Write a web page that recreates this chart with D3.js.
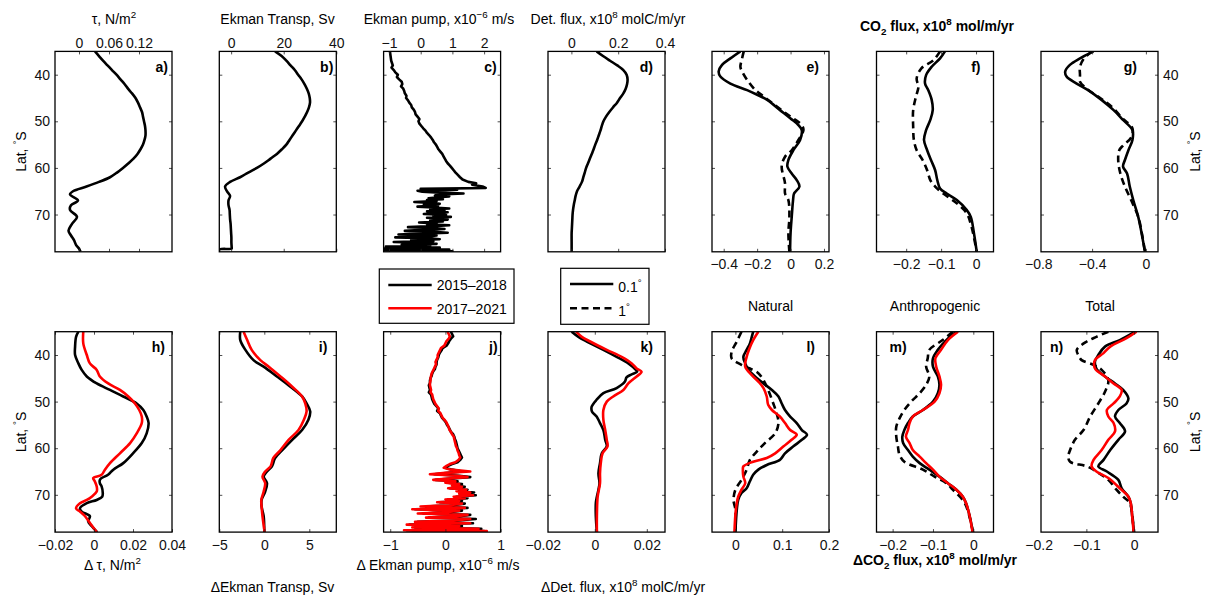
<!DOCTYPE html>
<html>
<head>
<meta charset="utf-8">
<script src="https://cdn.jsdelivr.net/npm/d3@7"></script>
<style>
  body { margin: 0; background: #fff; }
  svg { display: block; font-family: "Liberation Sans", Arial, Helvetica, sans-serif; }
</style>
</head>
<body>
<svg id="chart" width="1205" height="597"></svg>
<script>
// ---- data: [lat (deg S), value] ----
const latTicks = [40, 50, 60, 70]

const tauMean = [[35,0.032],[36,0.040],[37,0.048],[38,0.057],[39,0.066],[40,0.075],[41,0.083],[42,0.091],[43,0.098],[44,0.106],[45,0.113],[46,0.118],[47,0.122],[48,0.126],[49,0.128],[50,0.130],[51,0.132],[52,0.133],[53,0.133],[54,0.131],[55,0.128],[56,0.123],[57,0.117],[58,0.109],[59,0.099],[60,0.088],[61,0.076],[62,0.062],[63,0.040],[64,0.015],[65,-0.012],[65.7,-0.018],[67,-0.002],[68,-0.016],[69,-0.018],[70.5,-0.004],[72,-0.014],[73.5,-0.021],[74.5,-0.016],[75.5,-0.010],[76.5,-0.006],[77.3,0.000],[78,0.003]]

const ekmanTransp = [[35,16.7],[36,19.2],[37,21],[38,22.6],[39,24.2],[40,25.5],[41,26.8],[42,27.9],[43,28.8],[44,29.5],[45,29.9],[46,30],[47,29.6],[48,28.9],[49,28],[50,27],[51,25.8],[52,24.6],[53,23.4],[54,22.2],[55,21],[56,19.3],[57,17.4],[58,15],[59,12.6],[60,9.8],[61,6.5],[62,3.4],[63,-0.4],[64,-2.3],[65,-1.6],[66,-0.4],[67,-1.0],[68,-1.0],[69,-0.6],[70,-0.5],[71,-0.4],[72,-0.2],[73,-0.1],[74,0],[75,0.1],[76,0.1],[77,0.2],[77.3,0.2],[77.5,-4.5],[78,-4.5]]

const ekmanPump = [[35,-0.97],[36,-0.95],[37,-0.93],[38,-0.88],[38.5,-0.92],[39,-0.85],[39.5,-0.80],[40,-0.72],[40.5,-0.75],[41,-0.68],[41.5,-0.60],[42,-0.58],[42.5,-0.62],[43,-0.55],[43.5,-0.52],[44,-0.50],[44.5,-0.45],[45,-0.46],[45.5,-0.40],[46,-0.36],[46.5,-0.30],[47,-0.28],[47.5,-0.22],[48,-0.18],[48.5,-0.16],[49,-0.10],[49.5,-0.04],[50,-0.07],[50.5,-0.04],[51,0.02],[51.5,0.08],[52,0.15],[52.5,0.20],[53,0.27],[53.5,0.33],[54,0.38],[54.5,0.42],[55,0.48],[55.5,0.52],[56,0.56],[56.5,0.62],[57,0.68],[57.5,0.72],[58,0.76],[58.5,0.80],[59,0.85],[59.5,0.92],[60,0.98],[60.5,1.04],[61,1.10],[61.5,1.17],[62,1.24],[62.5,1.32],[63,1.50],[63.3,1.75],[63.6,1.62],[64,1.95],[64.3,2.05],[64.5,0.0],[64.7,1.15],[64.9,-0.1],[65.1,0.05],[65.3,0.6],[65.5,1.35],[65.7,0.6],[65.9,0.45],[66.1,0.9],[66.3,0.55],[66.5,0.25],[66.7,0.7],[66.9,0.2],[67.1,0.5],[67.3,-0.2],[67.5,0.35],[67.7,0.6],[67.9,0.1],[68.1,0.55],[68.3,-0.1],[68.5,0.4],[68.7,0.9],[68.9,0.3],[69.1,0.75],[69.3,0.2],[69.5,0.85],[69.7,0.45],[69.9,0.1],[70.1,0.8],[70.3,0.4],[70.5,0.95],[70.7,0.2],[70.9,0.6],[71.1,0.85],[71.3,0.3],[71.5,0.7],[71.7,-0.05],[71.9,0.5],[72.1,0.2],[72.3,0.9],[72.5,0.4],[72.7,-0.4],[72.9,0.3],[73.1,0.75],[73.3,0.1],[73.5,-0.5],[73.7,0.4],[73.9,0.85],[74.1,0.0],[74.3,-0.7],[74.5,0.5],[74.7,0.2],[74.9,-0.8],[75.1,0.3],[75.3,0.6],[75.5,-0.3],[75.7,0.4],[75.9,-0.85],[76.1,0.2],[76.3,0.5],[76.5,-0.6],[76.7,0.3],[76.9,-1.1],[77.1,0.6],[77.3,-1.17],[77.5,0.9],[77.7,-1.17],[77.9,1.0],[78,-1.17]]

const detFlux = [[35,0.108],[36,0.135],[37,0.165],[38,0.196],[39,0.222],[40,0.236],[41,0.240],[42,0.238],[43,0.232],[44,0.222],[45,0.208],[46,0.195],[47,0.178],[48,0.162],[49,0.148],[50,0.137],[51,0.130],[52,0.124],[53,0.117],[54,0.110],[55,0.102],[56,0.095],[57,0.087],[58,0.079],[59,0.071],[60,0.063],[61,0.057],[62,0.051],[63,0.045],[64,0.035],[65,0.024],[66,0.018],[67,0.014],[68,0.010],[69,0.007],[70,0.005],[71,0.004],[72,0.003],[73,0.002],[74,0.001],[76,0.001],[78,0.001]]

const natHi = [[35,-0.30],[36.5,-0.36],[37.9,-0.41],[39.3,-0.43],[40.4,-0.42],[41.9,-0.36],[43.3,-0.26],[44.3,-0.20],[45.4,-0.14],[47.6,-0.063],[49.4,0.0],[50.8,0.047],[51.9,0.067],[54,0.057],[56.2,0.017],[58.3,-0.013],[59.7,-0.019],[61.2,0.007],[62.6,0.037],[64,0.053],[65.5,0.021],[66.9,0.015],[70.5,0.007],[74,0.0],[78,-0.003]]
const natLo = [[35,-0.28],[36.5,-0.29],[38.3,-0.30],[39.3,-0.29],[41.1,-0.26],[43.3,-0.21],[44.7,-0.16],[46.9,-0.08],[49,0.0],[50.8,0.067],[51.9,0.077],[54,0.047],[56.2,0.007],[57.6,-0.033],[59.7,-0.053],[63.3,-0.033],[65.5,-0.033],[66.9,-0.013],[70.5,-0.007],[74,-0.013],[78,-0.007]]
const antHi = [[35,-0.089],[36.5,-0.103],[38.3,-0.127],[40.1,-0.143],[41.9,-0.146],[43.3,-0.137],[45.4,-0.127],[47.6,-0.124],[49.7,-0.131],[51.9,-0.143],[54,-0.149],[56.2,-0.14],[58.3,-0.129],[60.5,-0.117],[62.6,-0.111],[64.4,-0.103],[65.5,-0.084],[66.9,-0.055],[69,-0.027],[70.5,-0.015],[74,-0.006],[78,0.002]]
const antLo = [[35,-0.103],[36.9,-0.122],[38.6,-0.156],[40.8,-0.17],[42.6,-0.165],[44.7,-0.172],[47.6,-0.18],[51.1,-0.18],[54,-0.178],[56.2,-0.17],[58.3,-0.153],[60.5,-0.14],[62.6,-0.131],[64,-0.117],[65.5,-0.094],[67.6,-0.055],[69.7,-0.027],[72.6,-0.013],[78,0.002]]
const totHi = [[35,-0.39],[36.5,-0.49],[37.9,-0.565],[39.3,-0.60],[40.4,-0.59],[41.9,-0.515],[43.3,-0.43],[45.4,-0.33],[47.6,-0.24],[49.7,-0.17],[51.9,-0.10],[54,-0.10],[56.2,-0.13],[58.3,-0.156],[59.7,-0.17],[61.2,-0.14],[64,-0.12],[66.9,-0.094],[70.5,-0.057],[74,-0.032],[78,-0.007]]
const totLo = [[35,-0.40],[36.5,-0.46],[38.3,-0.49],[40.1,-0.49],[41.5,-0.49],[43,-0.44],[45,-0.34],[47,-0.25],[49.5,-0.17],[51.5,-0.10],[53.5,-0.11],[55.2,-0.17],[56.2,-0.198],[58.3,-0.206],[61.2,-0.19],[64,-0.156],[66.9,-0.11],[70.5,-0.057],[74,-0.03],[78,-0.007]]

// differences, black = 2015-2018, red = 2017-2021
const dTauA = [[35,-0.008],[36.1,-0.0092],[38.2,-0.0097],[40,-0.0097],[41.8,-0.008],[43.2,-0.0063],[44.6,-0.0037],[46.1,0.0014],[47.5,0.0082],[48.9,0.015],[50.4,0.0219],[51.8,0.0253],[53.2,0.027],[54.6,0.028],[56.8,0.027],[58.9,0.0245],[61.1,0.020],[63.2,0.015],[64.6,0.0099],[65.7,0.0072],[66.4,0.0039],[66.8,0.003],[67.5,0.003],[68.2,0.0039],[69.6,0.0045],[70.4,0.0042],[71.1,0.0014],[71.8,-0.0037],[72.9,-0.0072],[73.6,-0.0063],[74.6,-0.0021],[75.7,-0.003],[76.8,-0.001],[78,0.0016]]
const dTauB = [[35,-0.0055],[37.5,-0.0055],[40,-0.0037],[41.8,-0.0021],[43.2,0.0014],[44.6,0.003],[46.1,0.0073],[47.5,0.0133],[48.9,0.0176],[50.4,0.021],[51.8,0.0232],[53.2,0.0245],[54.6,0.0245],[56.8,0.0219],[58.9,0.0185],[61.1,0.0133],[63.2,0.0082],[64.6,0.0056],[65.7,0.0039],[66.4,-0.0004],[67.1,0.0004],[68.2,0.0014],[69.3,0.0014],[70.4,-0.0012],[71.1,-0.0037],[71.8,-0.0072],[72.9,-0.0092],[73.6,-0.0072],[74.6,-0.0046],[76.1,-0.002],[78,0.0014]]

const dTranspA = [[35,-2.67],[36.8,-2.67],[38.9,-2.1],[41.1,-1.2],[42.5,-0.07],[44.6,1.4],[46.8,2.9],[48.9,4.2],[50.4,4.7],[52.1,5.1],[53.9,4.9],[56.1,4.2],[58.2,3.1],[60.4,2.0],[62.1,1.2],[63.9,0.85],[65,0.3],[66.1,-0.07],[67.5,0.3],[69.3,0.1],[71.1,-0.3],[72.5,-0.3],[74.6,-0.07],[78,0.0]]
const dTranspB = [[35,-2.3],[36.8,-1.9],[38.9,-1.4],[41.1,-0.44],[42.5,0.5],[44.6,1.8],[46.8,3.1],[48.9,4.2],[50.4,4.55],[52.1,4.7],[53.9,4.4],[56.1,3.8],[58.2,2.7],[60.4,1.8],[62.1,1.0],[63.9,0.7],[65,0.1],[66.1,-0.2],[67.5,0.1],[69.3,-0.07],[71.1,-0.33],[72.5,-0.3],[74.6,-0.2],[78,0.04]]

const dPumpA = [[35,0.10],[35.5,0.12],[36,0.14],[36.5,0.10],[37,0.07],[37.5,0.05],[38,0.02],[38.5,-0.05],[39,-0.07],[39.5,-0.10],[40,-0.12],[40.5,-0.13],[41,-0.15],[41.5,-0.16],[42,-0.16],[42.5,-0.18],[43,-0.19],[43.5,-0.22],[44,-0.24],[44.5,-0.25],[45,-0.27],[45.5,-0.28],[46,-0.28],[46.5,-0.30],[47,-0.29],[47.5,-0.28],[48,-0.30],[48.5,-0.26],[49,-0.25],[49.5,-0.24],[50,-0.22],[50.5,-0.20],[51,-0.16],[51.5,-0.13],[52,-0.15],[52.5,-0.10],[53,-0.08],[53.5,-0.06],[54,-0.02],[54.5,0.01],[55,0.03],[55.5,0.06],[56,0.08],[56.5,0.10],[57,0.14],[57.5,0.16],[58,0.17],[58.5,0.19],[59,0.20],[59.5,0.21],[60,0.22],[60.5,0.24],[61,0.26],[61.5,0.28],[62,0.30],[62.5,0.27],[63,0.22],[63.4,0.12],[63.8,0.05],[64.2,0.00],[64.6,0.12],[65,0.30],[65.3,0.05],[65.6,-0.20],[65.9,0.25],[66.2,0.45],[66.5,0.10],[66.8,-0.18],[67.1,0.22],[67.4,0.05],[67.7,0.30],[68,0.15],[68.3,0.35],[68.6,0.08],[68.9,0.40],[69.2,0.25],[69.5,0.52],[69.8,0.30],[70.1,0.55],[70.4,0.20],[70.7,0.40],[71,0.05],[71.3,0.30],[71.6,-0.10],[71.9,0.35],[72.2,0.15],[72.5,-0.35],[72.8,0.40],[73.1,-0.55],[73.4,0.30],[73.7,0.10],[74,-0.40],[74.3,0.45],[74.6,0.25],[74.9,-0.30],[75.2,0.55],[75.5,0.20],[75.8,-0.50],[76.1,0.50],[76.4,-0.65],[76.7,0.30],[77,-0.55],[77.3,0.65],[77.6,-0.70],[77.8,0.70],[78,-0.60]]
const dPumpB = [[35,0.04],[35.5,0.06],[36,0.08],[36.5,0.06],[37,0.02],[37.5,0.00],[38,-0.02],[38.5,-0.08],[39,-0.10],[39.5,-0.12],[40,-0.14],[40.5,-0.14],[41,-0.16],[41.5,-0.18],[42,-0.17],[42.5,-0.19],[43,-0.21],[43.5,-0.23],[44,-0.25],[44.5,-0.26],[45,-0.27],[45.5,-0.27],[46,-0.28],[46.5,-0.28],[47,-0.27],[47.5,-0.26],[48,-0.27],[48.5,-0.24],[49,-0.23],[49.5,-0.22],[50,-0.20],[50.5,-0.18],[51,-0.15],[51.5,-0.12],[52,-0.13],[52.5,-0.09],[53,-0.07],[53.5,-0.05],[54,-0.01],[54.5,0.02],[55,0.04],[55.5,0.06],[56,0.07],[56.5,0.10],[57,0.12],[57.5,0.15],[58,0.16],[58.5,0.17],[59,0.18],[59.5,0.19],[60,0.21],[60.5,0.22],[61,0.24],[61.5,0.25],[62,0.27],[62.5,0.24],[63,0.18],[63.4,0.08],[63.8,0.02],[64.2,-0.03],[64.6,0.10],[65,0.45],[65.3,0.00],[65.6,-0.28],[65.9,0.20],[66.2,0.40],[66.5,0.05],[66.8,-0.22],[67.1,0.18],[67.4,0.00],[67.7,0.25],[68,0.12],[68.3,0.30],[68.6,0.05],[68.9,0.38],[69.2,0.20],[69.5,0.45],[69.8,0.25],[70.1,0.50],[70.4,0.15],[70.7,0.35],[71,0.00],[71.3,0.25],[71.6,-0.15],[71.9,0.30],[72.2,0.10],[72.5,-0.45],[72.8,0.35],[73.1,-0.60],[73.4,0.25],[73.7,0.05],[74,-0.50],[74.3,0.40],[74.6,0.20],[74.9,-0.35],[75.2,0.45],[75.5,0.15],[75.8,-0.55],[76.1,0.45],[76.4,-0.70],[76.7,0.25],[77,-0.60],[77.3,0.60],[77.6,-0.75],[77.8,0.75],[78,-0.65]]

const dDetA = [[35,-0.0089],[36.1,-0.0063],[37.1,-0.0031],[38.9,0.0033],[40.4,0.0084],[41.8,0.0129],[43.2,0.0158],[43.6,0.0163],[44.2,0.0140],[44.8,0.0122],[45.7,0.0116],[47.1,0.0084],[48.2,0.0033],[49.6,0.0007],[51.1,-0.0012],[52.1,-0.0011],[53.2,0.0007],[54.6,0.002],[56.1,0.0033],[58.2,0.004],[59.6,0.0046],[61.1,0.0027],[63.2,0.002],[65.4,0.0014],[67.5,0.0018],[68.9,0.0014],[70.4,0.0008],[71.8,0.0004],[74.6,0.0004],[78,0.0008]]
const dDetB = [[35,-0.0072],[36.1,-0.005],[37.1,-0.0018],[38.9,0.0046],[40.4,0.0103],[41.8,0.0142],[42.9,0.0161],[43.6,0.018],[44.6,0.0161],[46.1,0.0129],[47.5,0.011],[48.9,0.0071],[50,0.0046],[51.8,0.0033],[53.9,0.0033],[56.1,0.004],[58.2,0.0046],[59.6,0.0049],[61.1,0.003],[63.2,0.0023],[65.4,0.002],[67.5,0.002],[70.4,0.0011],[74.6,0.0008],[78,0.0008]]

const dNatA = [[35,0.038],[36.1,0.035],[37.5,0.031],[38.9,0.024],[40.4,0.017],[41.8,0.021],[43.2,0.028],[44.6,0.042],[46.1,0.06],[47.5,0.078],[48.9,0.092],[50.4,0.099],[51.8,0.106],[53.2,0.117],[54.6,0.131],[56.1,0.142],[57.1,0.153],[58.2,0.142],[59.6,0.124],[61.1,0.106],[62.5,0.095],[63.6,0.067],[64.6,0.049],[65.7,0.038],[67.1,0.031],[68.6,0.024],[69.6,0.013],[71.1,0.006],[73.2,0.003],[78,0.0]]
const dNatB = [[35,0.049],[36.8,0.038],[38.6,0.03],[40.4,0.024],[42.5,0.021],[44.3,0.035],[45.7,0.049],[47.1,0.06],[48.9,0.067],[50.7,0.07],[51.8,0.078],[53.2,0.095],[54.6,0.106],[56.1,0.117],[57.1,0.131],[58.2,0.12],[59.6,0.103],[61.1,0.085],[62.1,0.067],[62.9,0.038],[63.9,0.017],[64.6,0.016],[66.1,0.017],[67.5,0.021],[68.9,0.013],[70.4,0.006],[73.2,0.001],[78,-0.002]]
const dNatLo = [[35,0.013],[37.1,0.003],[39.3,-0.008],[40.7,-0.008],[42.1,0.013],[42.9,0.031],[43.9,0.049],[45.4,0.06],[47.5,0.07],[50.4,0.081],[52.5,0.088],[54.6,0.092],[56.8,0.085],[58.9,0.063],[60.7,0.046],[62.5,0.031],[64.6,0.024],[66.8,0.013],[68.9,0.0],[71.1,-0.004],[73.2,0.0],[78,0.0]]

const dAntA = [[35,-0.042],[36.8,-0.067],[38.9,-0.088],[40.7,-0.1],[42.5,-0.1],[44.6,-0.088],[46.4,-0.084],[48.2,-0.088],[50,-0.1],[51.8,-0.125],[53.2,-0.15],[54.6,-0.162],[56.1,-0.171],[57.5,-0.176],[58.9,-0.174],[60.4,-0.162],[61.8,-0.15],[63.2,-0.133],[64.6,-0.109],[66.1,-0.084],[67.5,-0.063],[68.9,-0.042],[70.4,-0.026],[71.8,-0.018],[74.6,-0.009],[78,-0.001]]
const dAntB = [[35,-0.038],[36.8,-0.063],[38.9,-0.08],[40.7,-0.094],[42.5,-0.092],[44.6,-0.084],[46.4,-0.08],[48.2,-0.084],[50,-0.096],[51.8,-0.125],[53.2,-0.15],[54.6,-0.158],[56.1,-0.162],[57.5,-0.167],[58.9,-0.158],[60.4,-0.15],[61.8,-0.133],[63.2,-0.117],[64.6,-0.1],[66.1,-0.084],[67.5,-0.063],[68.9,-0.042],[70.4,-0.026],[71.8,-0.018],[74.6,-0.009],[78,-0.002]]
const dAntLo = [[35,-0.051],[36.8,-0.076],[38.9,-0.109],[40.7,-0.113],[42.5,-0.117],[44.6,-0.109],[46.4,-0.117],[48.2,-0.133],[50,-0.154],[51.8,-0.171],[53.6,-0.183],[55.4,-0.191],[57.5,-0.191],[59.6,-0.187],[61.4,-0.183],[62.9,-0.171],[64.6,-0.125],[66.1,-0.096],[67.5,-0.067],[68.9,-0.051],[71.8,-0.021],[78,-0.001]]

const dTotA = [[35,0.002],[36.8,-0.03],[38.2,-0.061],[40,-0.075],[41.4,-0.082],[42.9,-0.079],[44.6,-0.061],[46.1,-0.04],[47.5,-0.023],[49.3,-0.012],[50.4,-0.016],[51.8,-0.033],[53.2,-0.04],[54.6,-0.03],[56.4,-0.019],[58.2,-0.033],[60.4,-0.05],[62.5,-0.064],[63.9,-0.075],[65,-0.057],[66.8,-0.033],[68.6,-0.026],[70.4,-0.012],[71.8,-0.007],[74.6,-0.004],[78,0.0]]
const dTotB = [[35,0.005],[36.4,-0.016],[38.2,-0.05],[39.6,-0.064],[41.1,-0.082],[42.9,-0.082],[44.6,-0.061],[46.1,-0.043],[47.5,-0.026],[48.9,-0.03],[50.4,-0.043],[51.8,-0.057],[53.2,-0.054],[54.6,-0.043],[56.4,-0.04],[58.2,-0.054],[60.4,-0.068],[62.5,-0.085],[63.9,-0.089],[65,-0.079],[66.4,-0.054],[68.6,-0.03],[70.4,-0.012],[71.8,-0.007],[74.6,-0.004],[78,-0.001]]
const dTotLo = [[35,-0.054],[36.1,-0.079],[37.1,-0.099],[38.9,-0.12],[40,-0.117],[41.1,-0.11],[42.1,-0.085],[43.2,-0.068],[45.4,-0.054],[47.9,-0.061],[50.4,-0.075],[53.2,-0.092],[56.1,-0.106],[58.2,-0.124],[60.4,-0.134],[61.8,-0.138],[62.9,-0.134],[63.9,-0.099],[65,-0.079],[66.8,-0.054],[68.9,-0.037],[70.4,-0.023],[71.8,-0.009],[78,-0.001]]

const periodNames = ["2015\u20132018", "2017\u20132021"]
const resNames = ["0.1^{\u00b0}", "1^{\u00b0}"]

// ---- layout ----
const W = 117, H = 200.4
const colX = [55, 219.3, 383.6, 548, 712, 876.5, 1041]
const rowY = [51.4, 331.7]
const FS = 14
const BLACK = "#000", RED = "#ff0000", DASH = "7,4.5"
const smooth = d3.curveCatmullRom.alpha(0.5)

const panels = [
  { col: 0, row: 0, domain: [-0.048, 0.186], ticks: [0, 0.06, 0.12], xSide: "top", yLab: "left", tag: "a)", tagX: W - 4,
    series: [{ d: tauMean, c: BLACK }] },
  { col: 1, row: 0, domain: [-4.5, 40], ticks: [0, 20, 40], xSide: "top", tag: "b)", tagX: W - 3,
    series: [{ d: ekmanTransp, c: BLACK }] },
  { col: 2, row: 0, domain: [-1.17, 2.52], ticks: [-1, 0, 1, 2], xSide: "top", tag: "c)", tagX: W - 4, rough: true,
    series: [{ d: ekmanPump, c: BLACK }] },
  { col: 3, row: 0, domain: [-0.1, 0.4], ticks: [0, 0.2, 0.4], xSide: "top", tag: "d)", tagX: W - 12,
    series: [{ d: detFlux, c: BLACK }] },
  { col: 4, row: 0, domain: [-0.47, 0.23], ticks: [-0.4, -0.2, 0, 0.2], xSide: "bottom", tag: "e)", tagX: W - 10,
    series: [{ d: natLo, c: BLACK, dash: true }, { d: natHi, c: BLACK }] },
  { col: 5, row: 0, domain: [-0.285, 0.05], ticks: [-0.2, -0.1, 0], xSide: "bottom", tag: "f)", tagX: W - 13,
    series: [{ d: antLo, c: BLACK, dash: true }, { d: antHi, c: BLACK }] },
  { col: 6, row: 0, domain: [-0.78, 0.09], ticks: [-0.8, -0.4, 0], xSide: "bottom", yLab: "right", tag: "g)", tagX: W - 21,
    series: [{ d: totLo, c: BLACK, dash: true }, { d: totHi, c: BLACK }] },
  { col: 0, row: 1, domain: [-0.02, 0.04], ticks: [-0.02, 0, 0.02, 0.04], xSide: "bottom", yLab: "left", tag: "h)", tagX: W - 7,
    series: [{ d: dTauA, c: BLACK }, { d: dTauB, c: RED }] },
  { col: 1, row: 1, domain: [-5, 8], ticks: [-5, 0, 5], xSide: "bottom", tag: "i)", tagX: W - 9,
    series: [{ d: dTranspA, c: BLACK }, { d: dTranspB, c: RED }] },
  { col: 2, row: 1, domain: [-1.12, 1], ticks: [-1, 0, 1], xSide: "bottom", tag: "j)", tagX: W - 3, rough: true,
    series: [{ d: dPumpA, c: BLACK }, { d: dPumpB, c: RED }] },
  { col: 3, row: 1, domain: [-0.018, 0.027], ticks: [-0.02, 0, 0.02], xSide: "bottom", tag: "k)", tagX: W - 12,
    series: [{ d: dDetA, c: BLACK }, { d: dDetB, c: RED }] },
  { col: 4, row: 1, domain: [-0.05, 0.2], ticks: [0, 0.1, 0.2], xSide: "bottom", tag: "l)", tagX: W - 14,
    series: [{ d: dNatLo, c: BLACK, dash: true }, { d: dNatA, c: BLACK }, { d: dNatB, c: RED }] },
  { col: 5, row: 1, domain: [-0.24, 0.05], ticks: [-0.2, -0.1, 0], xSide: "bottom", tag: "m)", tagX: 13, tagStart: true,
    series: [{ d: dAntLo, c: BLACK, dash: true }, { d: dAntA, c: BLACK }, { d: dAntB, c: RED }] },
  { col: 6, row: 1, domain: [-0.195, 0.05], ticks: [-0.2, -0.1, 0], xSide: "bottom", yLab: "right", tag: "n)", tagX: 9, tagStart: true,
    series: [{ d: dTotLo, c: BLACK, dash: true }, { d: dTotA, c: BLACK }, { d: dTotB, c: RED }] },
]

const svg = d3.select("#chart")
const fmt = d => (d < 0 ? "\u2212" + (-d) : String(d))
const none = () => ""

// text with ^{sup} and _{sub}
function rich(sel, str) {
  const re = /([\^_])\{([^}]*)\}/g
  let last = 0, m
  while ((m = re.exec(str))) {
    if (m.index > last) sel.append("tspan").text(str.slice(last, m.index))
    sel.append("tspan")
      .attr("font-size", FS * 0.7)
      .attr("baseline-shift", m[1] === "^" ? FS * 0.42 : -FS * 0.25)
      .text(m[2])
    last = re.lastIndex
  }
  if (last < str.length) sel.append("tspan").text(str.slice(last))
  return sel
}

function styleAxis(s) {
  s.select(".domain").remove()
  s.selectAll(".tick line").attr("stroke", "#222").attr("stroke-width", 0.8)
  s.selectAll(".tick text").attr("font-size", FS).attr("font-family", null).attr("fill", "#111")
  s.attr("font-family", null).attr("font-size", FS)
}

panels.forEach((p, i) => {
  const x = d3.scaleLinear().domain(p.domain).range([0, W])
  const y = d3.scaleLinear().domain([35, 78]).range([0, H])
  const g = svg.append("g").attr("transform", `translate(${colX[p.col]},${rowY[p.row]})`)
  const inside = p.ticks.filter(t => t >= p.domain[0] - 1e-9 && t <= p.domain[1] + 1e-9)

  g.append("clipPath").attr("id", "clip" + i)
    .append("rect").attr("width", W).attr("height", H)

  const line = d3.line().x(d => x(d[1])).y(d => y(d[0])).curve(p.rough ? d3.curveLinear : smooth)
  g.append("g").attr("clip-path", `url(#clip${i})`)
    .selectAll("path").data(p.series).join("path")
    .attr("d", s => line(s.d))
    .attr("fill", "none")
    .attr("stroke", s => s.c)
    .attr("stroke-width", 2.6)
    .attr("stroke-linejoin", "round")
    .attr("stroke-dasharray", s => (s.dash ? DASH : null))

  const top = p.xSide === "top"
  g.append("g")
    .call(d3.axisTop(x).tickValues(top ? p.ticks : inside).tickSizeInner(-3).tickSizeOuter(0)
      .tickPadding(3).tickFormat(top ? fmt : none))
    .call(styleAxis)
  g.append("g").attr("transform", `translate(0,${H})`)
    .call(d3.axisBottom(x).tickValues(top ? inside : p.ticks).tickSizeInner(-3).tickSizeOuter(0)
      .tickPadding(7.5).tickFormat(top ? none : fmt))
    .call(styleAxis)
  g.selectAll(".tick").filter(d => !inside.includes(d)).select("line").remove()

  g.append("g")
    .call(d3.axisLeft(y).tickValues(latTicks).tickSizeInner(-3).tickSizeOuter(0)
      .tickPadding(5).tickFormat(p.yLab === "left" ? d => d : none))
    .call(styleAxis)
  g.append("g").attr("transform", `translate(${W},0)`)
    .call(d3.axisRight(y).tickValues(latTicks).tickSizeInner(-3).tickSizeOuter(0)
      .tickPadding(5).tickFormat(p.yLab === "right" ? d => d : none))
    .call(styleAxis)

  g.append("rect").attr("width", W).attr("height", H)
    .attr("fill", "none").attr("stroke", "#000").attr("stroke-width", 1.3)

  g.append("text")
    .attr("x", p.tagX).attr("y", p.row === 0 ? 21 : 20)
    .attr("text-anchor", p.tagStart ? "start" : "end")
    .attr("font-size", FS).attr("font-weight", "bold")
    .text(p.tag)

  if (p.yLab) {
    const lx = p.yLab === "left" ? -29 : W + 42
    g.append("text")
      .attr("transform", `translate(${lx},${H / 2}) rotate(-90)`)
      .attr("text-anchor", "middle").attr("font-size", FS)
      .call(rich, "Lat, ^{\u00b0}S")
  }
})

// titles and axis names
const titles = [
  ["\u03c4, N/m^{2}", 114, 24],
  ["Ekman Transp, Sv", 277.5, 24],
  ["Ekman pump, x10^{\u22126} m/s", 439, 24],
  ["Det. flux, x10^{8} molC/m/yr", 608, 24],
  ["CO_{2} flux, x10^{8} mol/m/yr", 937, 31, true],
  ["Natural", 770.5, 311],
  ["Anthropogenic", 935, 311],
  ["Total", 1100, 311],
  ["\u0394 \u03c4, N/m^{2}", 112.5, 570],
  ["\u0394Ekman Transp, Sv", 272.5, 592],
  ["\u0394 Ekman pump, x10^{\u22126} m/s", 438, 570],
  ["\u0394Det. flux, x10^{8} molC/m/yr", 623, 592],
  ["\u0394CO_{2} flux, x10^{8} mol/m/yr", 935, 565, true],
]
titles.forEach(([t, tx, ty, bold]) => {
  svg.append("text").attr("x", tx).attr("y", ty)
    .attr("text-anchor", "middle").attr("font-size", FS)
    .attr("font-weight", bold ? "bold" : null)
    .call(rich, t)
})

// legends
const leg1 = svg.append("g").attr("transform", "translate(379.3,269)")
leg1.append("rect").attr("width", 134.7).attr("height", 54.3)
  .attr("fill", "#fff").attr("stroke", "#000").attr("stroke-width", 1.2)
leg1.selectAll("line").data(periodNames).join("line")
  .attr("x1", 9).attr("x2", 52.4)
  .attr("y1", (d, i) => 16 + i * 23.3).attr("y2", (d, i) => 16 + i * 23.3)
  .attr("stroke", (d, i) => (i ? RED : BLACK)).attr("stroke-width", 2.6)
leg1.selectAll("text").data(periodNames).join("text")
  .attr("x", 57.4).attr("y", (d, i) => 21 + i * 24)
  .attr("font-size", FS).text(d => d)

const leg2 = svg.append("g").attr("transform", "translate(560.7,268.3)")
leg2.append("rect").attr("width", 88.3).attr("height", 56)
  .attr("fill", "#fff").attr("stroke", "#000").attr("stroke-width", 1.2)
leg2.selectAll("line").data(resNames).join("line")
  .attr("x1", 9.3).attr("x2", 52.6)
  .attr("y1", (d, i) => 15.7 + i * 24.3).attr("y2", (d, i) => 15.7 + i * 24.3)
  .attr("stroke", BLACK).attr("stroke-width", 2.6)
  .attr("stroke-dasharray", (d, i) => (i ? DASH : null))
leg2.selectAll("text").data(resNames).join("text")
  .attr("x", 57.6).attr("y", (d, i) => 23.7 + i * 24)
  .attr("font-size", FS)
  .each(function (d) { rich(d3.select(this), d) })
</script>
</body>
</html>
